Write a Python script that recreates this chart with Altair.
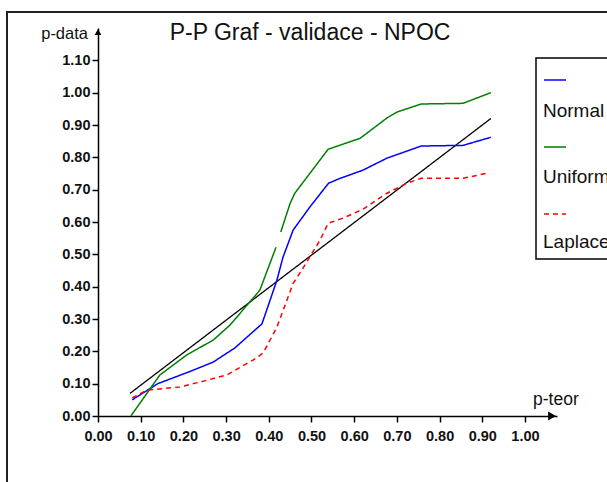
import altair as alt
import pandas as pd

# P-P plot: empirical vs theoretical probabilities for three fitted distributions
series_names = ["Normal", "Uniform", "Laplace"]

normal_x = [0.080, 0.140, 0.210, 0.270, 0.320, 0.384, 0.403, 0.419, 0.433, 0.457,
            0.496, 0.540, 0.567, 0.620, 0.676, 0.757, 0.855, 0.920]
normal_y = [0.050, 0.100, 0.135, 0.167, 0.210, 0.285, 0.358, 0.420, 0.490, 0.575,
            0.646, 0.720, 0.735, 0.760, 0.797, 0.835, 0.837, 0.862]

# the uniform curve is drawn in two pieces (gap near p-teor = 0.42)
uniform_x_a = [0.077, 0.145, 0.208, 0.270, 0.309, 0.379, 0.417]
uniform_y_a = [0.000, 0.127, 0.189, 0.235, 0.281, 0.389, 0.522]
uniform_x_b = [0.428, 0.450, 0.461, 0.496, 0.539, 0.614, 0.676, 0.700, 0.757, 0.855, 0.920]
uniform_y_b = [0.569, 0.658, 0.689, 0.750, 0.825, 0.859, 0.921, 0.940, 0.965, 0.967, 1.000]

laplace_x = [0.080, 0.115, 0.192, 0.239, 0.302, 0.363, 0.387, 0.419, 0.457, 0.480,
             0.520, 0.539, 0.574, 0.621, 0.677, 0.723, 0.757, 0.855, 0.911]
laplace_y = [0.056, 0.080, 0.090, 0.105, 0.127, 0.173, 0.195, 0.275, 0.410, 0.457,
             0.544, 0.596, 0.612, 0.640, 0.689, 0.720, 0.735, 0.735, 0.751]

ref_x = [0.075, 0.920]
ref_y = [0.070, 0.920]

x_ticks = [0.0, 0.1, 0.2, 0.3, 0.4, 0.5, 0.6, 0.7, 0.8, 0.9, 1.0]
y_ticks = [0.0, 0.1, 0.2, 0.3, 0.4, 0.5, 0.6, 0.7, 0.8, 0.9, 1.0, 1.1]

title_text = "P-P Graf - validace - NPOC"
x_title = "p-teor"
y_title = "p-data"

colors = ["#0000FF", "#008000", "#FF0000"]
dashes = [[1, 0], [1, 0], [5, 4]]

W, H = 459, 388
LABEL_FONT = "Liberation Sans"

x_scale = alt.Scale(domain=[0, 1.075], nice=False, zero=True)
y_scale = alt.Scale(domain=[0, 1.2], nice=False)

axis_common = dict(
    format=".2f", title=None, grid=False, tickSize=6, tickWidth=1.5,
    domainWidth=1.5, domainColor="black", tickColor="black",
    labelFont=LABEL_FONT, labelFontSize=14.5, labelFontWeight="bold",
    labelColor="#111", labelOverlap=False, labelBound=False,
    labelFlush=False,
)
x_axis = alt.Axis(values=x_ticks, labelAngle=0, labelPadding=7, **axis_common)
y_axis = alt.Axis(values=y_ticks, labelPadding=2, **axis_common)


def frame(xs, ys, part=0):
    return pd.DataFrame({"x": xs, "y": ys, "part": part})


def curve(df, color, dash, width=1.5):
    return alt.Chart(df).mark_line(
        color=color, strokeDash=dash, strokeWidth=width
    ).encode(
        x=alt.X("x:Q", scale=x_scale, axis=x_axis),
        y=alt.Y("y:Q", scale=y_scale, axis=y_axis),
        detail="part:N",
    )


one = pd.DataFrame({"k": [0]})

outer_box = alt.Chart(one).mark_rect(fillOpacity=0, stroke="#222", strokeWidth=2).encode(
    x=alt.value(-91), x2=alt.value(620), y=alt.value(-16), y2=alt.value(520)
)

layers = [outer_box]

layers.append(curve(frame(ref_x, ref_y), "black", [1, 0], 1.3))
layers.append(curve(frame(normal_x, normal_y), colors[0], dashes[0]))
layers.append(curve(pd.concat([frame(uniform_x_a, uniform_y_a, 0),
                               frame(uniform_x_b, uniform_y_b, 1)]), colors[1], dashes[1]))
layers.append(curve(frame(laplace_x, laplace_y), colors[2], dashes[2]))

# axis arrowheads
layers.append(alt.Chart(one).mark_point(shape="triangle-right", filled=True, size=80,
                                        color="black", opacity=1).encode(
    x=alt.value(454), y=alt.value(H)))
layers.append(alt.Chart(one).mark_point(shape="triangle-up", filled=True, size=45,
                                        color="black", opacity=1).encode(
    x=alt.value(0), y=alt.value(4)))

# title and axis captions
layers.append(alt.Chart(one).mark_text(
    text=title_text, font=LABEL_FONT, fontSize=23, align="center",
    baseline="alphabetic", color="#111").encode(x=alt.value(212), y=alt.value(12)))
layers.append(alt.Chart(one).mark_text(
    text=y_title, font=LABEL_FONT, fontSize=16.5, align="right",
    baseline="alphabetic", color="#111").encode(x=alt.value(-10), y=alt.value(11)))
layers.append(alt.Chart(one).mark_text(
    text=x_title, font=LABEL_FONT, fontSize=17.5, align="left",
    baseline="alphabetic", color="#111").encode(x=alt.value(435), y=alt.value(377)))

# legend: box, line sample above each name
layers.append(alt.Chart(one).mark_rect(fill="white", stroke="black", strokeWidth=1.5).encode(
    x=alt.value(438), x2=alt.value(560), y=alt.value(30), y2=alt.value(231)))
for i, name in enumerate(series_names):
    ly = 52 + 67 * i
    layers.append(alt.Chart(one).mark_rule(color=colors[i], strokeWidth=1.5,
                                           strokeDash=dashes[i]).encode(
        x=alt.value(446), x2=alt.value(468), y=alt.value(ly)))
    layers.append(alt.Chart(one).mark_text(
        text=name, font=LABEL_FONT, fontSize=19, align="left",
        baseline="alphabetic", color="#111").encode(
        x=alt.value(445), y=alt.value(89 + 65.5 * i)))

chart = alt.layer(*layers).properties(
    width=W, height=H,
    autosize=alt.AutoSizeParams(type="none"),
    padding={"left": 98, "top": 28, "right": 50, "bottom": 66},
).configure_view(stroke=None)

chart.save("out.html", embed_options={"renderer": "svg", "actions": False})
